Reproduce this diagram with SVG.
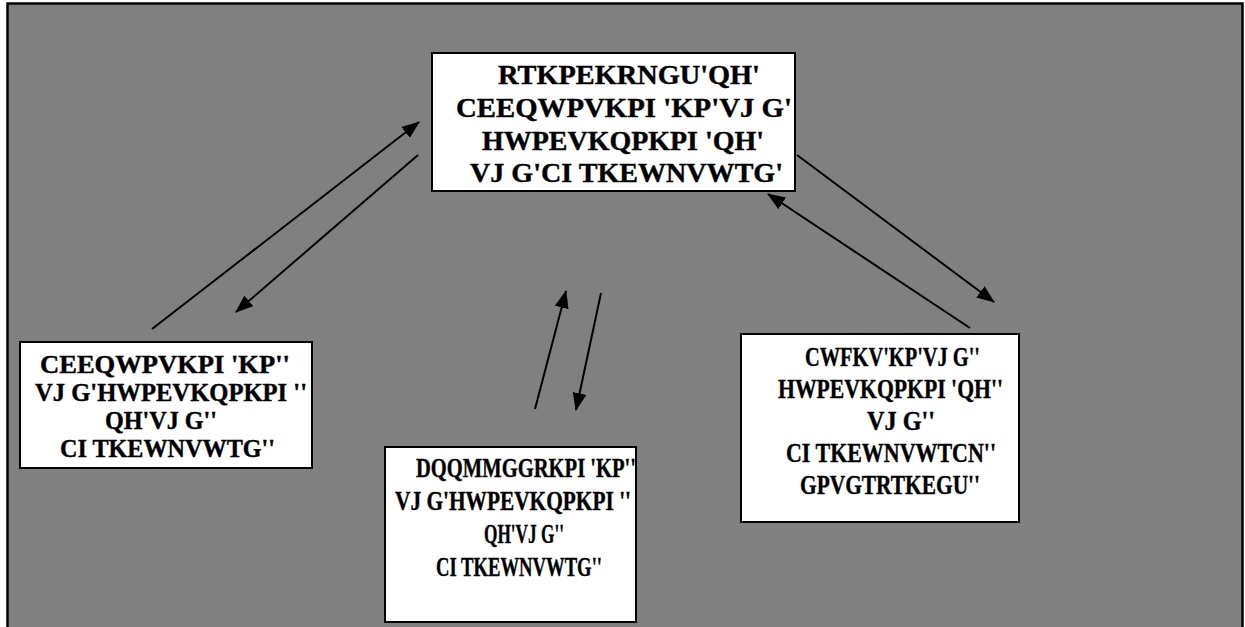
<svg xmlns="http://www.w3.org/2000/svg" width="1245" height="627" viewBox="0 0 1245 627">
  <defs>
    <marker id="head" viewBox="0 0 18 14" refX="17" refY="7" markerWidth="18" markerHeight="14" markerUnits="userSpaceOnUse" orient="auto">
      <path d="M0,0 L18,7 L0,14 Z" fill="#000"/>
    </marker>
    <style>
      .frame { fill: #808080; stroke: #000; stroke-width: 2.5; }
      .box { fill: #fff; stroke: #000; stroke-width: 2; }
      .lbl { font-family: "Liberation Serif", "Times New Roman", serif; font-weight: bold; font-size: 28px; fill: #000; stroke: #000; stroke-width: 0.4; }
      .sm { font-size: 25px; }
      .link { stroke: #000; stroke-width: 2; fill: none; marker-end: url(#head); }
    </style>
  </defs>

  <!-- background panel -->
  <rect class="frame" x="7.5" y="3.5" width="1235" height="700"/>

  <!-- central node -->
  <g id="node-main">
    <rect class="box" x="432" y="53" width="363" height="138"/>
    <text class="lbl" x="498" y="84" textLength="262" lengthAdjust="spacingAndGlyphs">RTKPEKRNGU'QH'</text>
    <text class="lbl" x="456" y="117" textLength="336" lengthAdjust="spacingAndGlyphs">CEEQWPVKPI 'KP'VJ G'</text>
    <text class="lbl" x="482" y="150" textLength="282" lengthAdjust="spacingAndGlyphs">HWPEVKQPKPI 'QH'</text>
    <text class="lbl" x="470" y="182" textLength="313" lengthAdjust="spacingAndGlyphs">VJ G'CI TKEWNVWTG'</text>
  </g>

  <!-- left node -->
  <g id="node-accounting">
    <rect class="box" x="20" y="342" width="292" height="126"/>
    <text class="lbl sm" x="40" y="373" textLength="250" lengthAdjust="spacingAndGlyphs">CEEQWPVKPI 'KP''</text>
    <text class="lbl sm" x="35" y="401" textLength="272" lengthAdjust="spacingAndGlyphs">VJ G'HWPEVKQPKPI ''</text>
    <text class="lbl sm" x="105" y="429" textLength="112" lengthAdjust="spacingAndGlyphs">QH'VJ G''</text>
    <text class="lbl sm" x="60" y="457" textLength="215" lengthAdjust="spacingAndGlyphs">CI TKEWNVWTG''</text>
  </g>

  <!-- bottom node -->
  <g id="node-bookkeeping">
    <rect class="box" x="385" y="447" width="251" height="175"/>
    <text class="lbl" x="416" y="477" textLength="220" lengthAdjust="spacingAndGlyphs">DQQMMGGRKPI 'KP''</text>
    <text class="lbl" x="395" y="510" textLength="236" lengthAdjust="spacingAndGlyphs">VJ G'HWPEVKQPKPI ''</text>
    <text class="lbl" x="484" y="543" textLength="80" lengthAdjust="spacingAndGlyphs">QH'VJ G''</text>
    <text class="lbl" x="436" y="576" textLength="166" lengthAdjust="spacingAndGlyphs">CI TKEWNVWTG''</text>
  </g>

  <!-- right node -->
  <g id="node-audit">
    <rect class="box" x="741" y="334" width="278" height="188"/>
    <text class="lbl" x="805" y="366" textLength="175" lengthAdjust="spacingAndGlyphs">CWFKV'KP'VJ G''</text>
    <text class="lbl" x="778" y="398" textLength="225" lengthAdjust="spacingAndGlyphs">HWPEVKQPKPI 'QH''</text>
    <text class="lbl" x="867" y="430" textLength="68" lengthAdjust="spacingAndGlyphs">VJ G''</text>
    <text class="lbl" x="786" y="462" textLength="210" lengthAdjust="spacingAndGlyphs">CI TKEWNVWTCN''</text>
    <text class="lbl" x="800" y="494" textLength="180" lengthAdjust="spacingAndGlyphs">GPVGTRTKEGU''</text>
  </g>

  <!-- connectors -->
  <g id="connectors">
    <line class="link" x1="152" y1="329" x2="419" y2="122"/>
    <line class="link" x1="418" y1="155" x2="236" y2="312"/>
    <line class="link" x1="535" y1="409" x2="566" y2="291"/>
    <line class="link" x1="601" y1="293" x2="576" y2="410"/>
    <line class="link" x1="797" y1="155" x2="994" y2="302"/>
    <line class="link" x1="970" y1="328" x2="768" y2="194"/>
  </g>
</svg>
